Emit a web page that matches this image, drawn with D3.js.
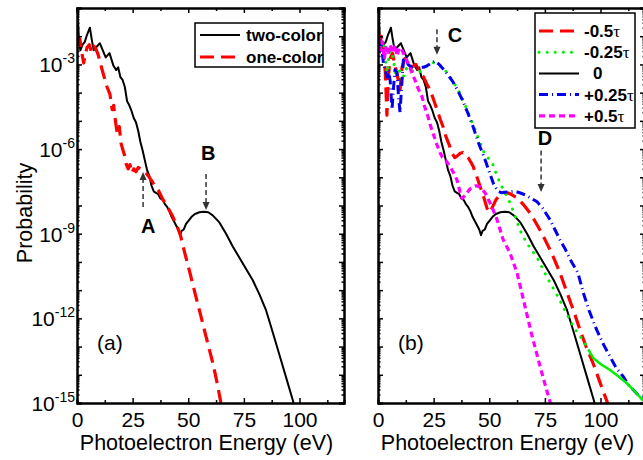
<!DOCTYPE html>
<html>
<head>
<meta charset="utf-8">
<script src="https://cdn.jsdelivr.net/npm/d3@7"></script>
<style>
  body { margin: 0; background: #fff; }
  svg { font-family: "Liberation Sans", Arial, sans-serif; }
</style>
</head>
<body>
<svg id="chart"></svg>
<script>
// [energy eV, log10 probability]
const twoColor = [
  [0.3,-1.1],[0.8,-2.0],[1.5,-2.5],[2.5,-2.3],[3.5,-2.2],[4.5,-1.95],[5.8,-1.7],[6.6,-2.1],[7.5,-2.5],
  [8.5,-2.4],[10.3,-2.25],[11.6,-2.5],[12.9,-2.75],[14.6,-2.6],[16.4,-3.05],[17.6,-3.2],[18.5,-3.1],
  [19.5,-3.45],[20.5,-3.55],[21.5,-3.8],[22.5,-4.3],[23.5,-4.45],[24.5,-4.65],[25.5,-4.9],[26.5,-5.05],
  [27.5,-5.35],[28.5,-5.75],[29.5,-6.05],[30.5,-6.4],[31.5,-6.75],[32.5,-6.95],[33.5,-7.3],[34.5,-7.5],
  [35.5,-7.55],[36.5,-7.6],[37.5,-7.75],[38.5,-7.8],[39.5,-7.95],[40.5,-8.05],[41.5,-8.2],[42.5,-8.4],
  [43.5,-8.55],[44.5,-8.7],[45.5,-8.85],[46.3,-9.05],[47,-8.9],[48,-8.85],[49,-8.65],[50,-8.55],
  [51.5,-8.4],[53,-8.3],[55,-8.24],[57,-8.22],[59,-8.24],[61,-8.35],[64,-8.6],[67,-9.0],[70,-9.45],
  [73,-9.85],[76,-10.25],[79,-10.65],[82,-11.15],[85,-11.72],[88,-12.5],[91,-13.3],[94,-14.1],[97,-14.9],[97.6,-15.1]
];
const oneColor = [
  [0.5,-2.3],[1.3,-2.1],[2.2,-2.6],[3.0,-2.95],[3.6,-2.7],[4.5,-2.4],[5.5,-2.3],[6.5,-2.55],[7.5,-2.35],
  [8.5,-2.45],[9.5,-2.65],[10.3,-2.9],[11.5,-3.25],[12.6,-3.55],[13.5,-3.8],[14.8,-4.05],[15.8,-4.6],
  [16.5,-4.45],[17.1,-4.9],[17.8,-5.3],[18.4,-5.5],[19,-5.2],[19.8,-5.8],[20.7,-6.05],[21.5,-6.25],
  [22.2,-6.55],[23,-6.7],[23.8,-6.55],[24.7,-6.85],[25.5,-6.7],[26.5,-6.8],[27.5,-6.65],[28.5,-6.7],
  [29.7,-6.75],[31,-6.85],[32.5,-7.0],[34.2,-7.2],[36.5,-7.45],[38.7,-7.8],[41,-8.1],[43.1,-8.4],
  [45,-8.75],[46.3,-9.0],[48,-9.55],[50.8,-10.4],[53,-11.1],[55.3,-11.8],[58,-12.65],[61.1,-13.6],
  [63,-14.3],[64.7,-15.0],[65,-15.1]
];
const delayM050 = [
  [0.5,-2.4],[1.5,-2.0],[2.5,-2.5],[3.3,-3.3],[4.0,-4.8],[4.6,-3.5],[5.4,-2.8],[6.5,-2.6],[7.5,-3.0],
  [8.5,-3.3],[9.9,-3.9],[10.8,-3.1],[12,-2.8],[13.5,-2.9],[15,-3.1],[17,-3.0],[18.9,-3.3],[20.5,-3.45],
  [22,-3.7],[23.4,-3.9],[25,-4.25],[26.5,-4.6],[28,-4.95],[29.2,-5.2],[30.5,-5.55],[32,-5.85],
  [33.3,-6.15],[34.5,-6.3],[35.5,-6.25],[37,-6.15],[38.2,-6.12],[40.5,-6.3],[42.7,-6.6],[44.5,-7.0],
  [46,-7.35],[47.5,-7.7],[49,-8.1],[50.3,-8.25],[51.5,-8.05],[53,-7.8],[55,-7.6],[56.5,-7.53],
  [59,-7.57],[62.5,-7.73],[65.5,-7.98],[68.3,-8.26],[70.5,-8.55],[72.8,-8.87],[75,-9.2],[77.3,-9.57],
  [79.5,-9.95],[81.8,-10.39],[85,-11.1],[88,-11.75],[90.8,-12.41],[93.5,-13.0],[96.6,-13.58],
  [99,-14.1],[101,-14.54],[103,-14.96],[103.3,-15.1]
];
const delayM025 = [
  [0.5,-2.2],[1.5,-2.5],[2.5,-2.3],[3.3,-2.8],[4.2,-3.3],[5,-2.6],[6,-2.5],[7,-2.9],[8,-3.4],[9,-3.1],
  [10,-3.3],[11,-3.6],[12.1,-3.2],[13.5,-3.1],[15,-3.2],[17,-3.3],[18.9,-3.25],[20.5,-3.15],[22,-3.05],
  [23.4,-2.98],[25.6,-2.92],[27.5,-3.0],[30.1,-3.2],[32.5,-3.45],[34.6,-3.72],[37,-4.05],[39.1,-4.43],
  [41.5,-4.9],[43.6,-5.3],[46,-5.8],[48.1,-6.2],[51.2,-6.45],[53,-6.85],[54.8,-7.2],[57.1,-7.55],
  [59.3,-7.9],[61.5,-8.35],[63.8,-8.87],[66,-9.2],[68.3,-9.5],[71.3,-9.81],[73.6,-10.17],[76.6,-10.64],
  [80,-11.1],[83.3,-11.6],[86.5,-12.1],[89.5,-12.5],[92.4,-12.8],[94.5,-13.1],[96.7,-13.4],[100,-13.62],
  [104.3,-13.83],[108,-14.05],[111.8,-14.3],[115,-14.55],[119,-14.9],[121,-15.0]
];
const delayP025 = [
  [0.5,-2.6],[1.5,-2.3],[2.5,-3.0],[3.3,-3.2],[4,-3.44],[4.8,-3.2],[5.5,-3.6],[6.3,-4.6],[7,-3.8],
  [7.6,-3.19],[8.5,-3.3],[9.3,-4.2],[9.9,-4.7],[10.6,-3.8],[11.4,-2.85],[12.4,-2.7],[13.5,-3.0],[15,-3.1],
  [17,-3.1],[18.9,-3.1],[20.5,-3.1],[22,-3.05],[24,-2.95],[25.6,-2.88],[27.5,-3.0],[29.2,-3.15],
  [31.5,-3.38],[33.7,-3.62],[36,-3.95],[38.2,-4.3],[40.5,-4.75],[42.7,-5.2],[45,-5.75],[48,-6.35],
  [50,-6.8],[52,-7.25],[54,-7.5],[55.7,-7.55],[58,-7.52],[60.7,-7.5],[63,-7.53],[66.1,-7.62],[69,-7.75],
  [71.5,-7.87],[74,-8.1],[77.3,-8.5],[79.5,-8.85],[81.8,-9.22],[84,-9.52],[86.3,-9.9],[89.9,-10.4],
  [92.3,-11.1],[95,-11.75],[98.3,-12.41],[101.5,-12.95],[104.3,-13.36],[107,-13.75],[110.3,-14.07],
  [112.5,-14.35],[114.8,-14.54],[117,-14.72],[119,-14.83],[121,-14.9]
];
const delayP050 = [
  [0.5,-2.0],[1.3,-2.5],[2,-2.2],[2.8,-2.8],[3.6,-2.4],[4.5,-2.66],[5.5,-2.3],[6.5,-2.6],[7.6,-2.3],
  [8.6,-2.7],[9.5,-2.4],[10.8,-2.5],[12,-2.7],[13.5,-2.94],[15,-3.25],[16.6,-3.55],[18,-3.85],[19.8,-4.15],
  [21,-4.5],[22.5,-4.86],[23.5,-5.15],[24.7,-5.43],[26.5,-5.85],[27.9,-6.13],[29,-6.3],[30.5,-6.4],
  [32.4,-6.63],[34,-6.85],[35.5,-7.09],[36.8,-7.5],[37.8,-7.75],[39,-7.65],[40,-7.55],[41.5,-7.4],
  [42.7,-7.34],[44,-7.3],[45.8,-7.34],[48.1,-7.55],[50,-7.85],[51.2,-8.05],[53.5,-8.5],[56.2,-9.2],
  [59.3,-9.68],[62.5,-10.39],[64.5,-11.05],[66.8,-11.82],[69,-12.55],[71.3,-13.24],[73.5,-13.9],
  [75.8,-14.54],[77.3,-14.95],[77.6,-15.1]
];

const xMajor = [0, 25, 50, 75, 100];
const xMinor = [12.5, 37.5, 62.5, 87.5, 112.5];
const yLabelExp = [-15, -12, -9, -6, -3];
const legendA = ['two-color', 'one-color'];
const legendB = ['-0.5', '-0.25', '0', '+0.25', '+0.5'];
// arrows: label, energy, label pos (E, log10P), arrow from/to log10P
const notesA = [
  {label: 'A', e: 29.7, le: 32, ly: -8.97, from: -8.05, to: -6.81},
  {label: 'B', e: 58, le: 59, ly: -6.38, from: -6.88, to: -8.16}
];
const notesB = [
  {label: 'C', e: 26.5, le: 34.6, ly: -2.2, from: -1.75, to: -2.66},
  {label: 'D', e: 73.3, le: 75, ly: -5.85, from: -6.05, to: -7.52}
];

const W = 643, H = 460;
const FONT = '"Liberation Sans", Arial, sans-serif';
const svg = d3.select('#chart').attr('width', W).attr('height', H)
  .attr('font-family', FONT);

const yScale = d3.scaleLog().domain([1e-15, 1e-1]).range([403, 8]);
const xA = d3.scaleLinear().domain([0, 120]).range([77, 344]);
const xB = d3.scaleLinear().domain([0, 120]).range([378, 645]);

const yDecades = d3.range(-15, 0).map(e => Math.pow(10, e));
const yMinor = [];
d3.range(-15, -1).forEach(e => { for (let k = 2; k < 10; k++) yMinor.push(k * Math.pow(10, e)); });

const styles = {
  twoColor: {color: '#000', width: 2, dash: null},
  oneColor: {color: '#ff0000', width: 3.2, dash: '14,7'},
  m050: {color: '#ff0000', width: 3.2, dash: '14,7'},
  m025: {color: '#00ee00', width: 3, dash: '0.1,8'},
  zero: {color: '#000', width: 2, dash: null},
  p025: {color: '#0000ee', width: 3, dash: '9,4,1,4'},
  p050: {color: '#ff00ff', width: 3.2, dash: '6,4'}
};

function drawPanel(id, x, series, notes) {
  const [x0, x1] = x.range();
  const [y1, y0] = yScale.range();
  svg.append('clipPath').attr('id', 'clip-' + id)
    .append('rect').attr('x', x0).attr('y', y0).attr('width', x1 - x0).attr('height', y1 - y0);

  const g = svg.append('g').attr('clip-path', `url(#clip-${id})`);
  const line = d3.line()
    .x(d => x(d[0]))
    .y(d => yScale(Math.pow(10, d[1])))
    .curve(d3.curveLinear);

  series.forEach(s => {
    const st = styles[s.style];
    g.append('path')
      .datum(s.data)
      .attr('d', line)
      .attr('fill', 'none')
      .attr('stroke', st.color)
      .attr('stroke-width', st.width)
      .attr('stroke-linejoin', 'round')
      .attr('stroke-linecap', s.style === 'm025' ? 'round' : 'butt')
      .attr('stroke-dasharray', st.dash);
  });

  // axes, all ticks point inward
  const axisStyle = sel => {
    sel.attr('font-family', FONT);
    sel.select('.domain').attr('stroke', '#000').attr('stroke-width', 2);
    sel.selectAll('.tick line').attr('stroke', '#000').attr('stroke-width', 1.5);
  };
  svg.append('g').attr('transform', `translate(0,${y1})`)
    .call(d3.axisBottom(x).tickValues(xMajor).tickSizeInner(-5).tickSizeOuter(0).tickPadding(9))
    .call(axisStyle)
    .call(a => a.selectAll('text').attr('font-size', 21).attr('fill', '#000'));
  svg.append('g').attr('transform', `translate(0,${y1})`)
    .call(d3.axisBottom(x).tickValues(xMinor).tickSize(-3).tickFormat(''))
    .call(axisStyle);
  svg.append('g').attr('transform', `translate(0,${y0})`)
    .call(d3.axisTop(x).tickValues(xMajor.concat([120])).tickSize(-5).tickFormat(''))
    .call(axisStyle);
  svg.append('g').attr('transform', `translate(0,${y0})`)
    .call(d3.axisTop(x).tickValues(xMinor).tickSize(-3).tickFormat(''))
    .call(axisStyle);

  [[x0, d3.axisLeft], [x1, d3.axisRight]].forEach(([px, ax]) => {
    svg.append('g').attr('transform', `translate(${px},0)`)
      .call(ax(yScale).tickValues(yDecades).tickSize(-5).tickFormat(''))
      .call(axisStyle);
    svg.append('g').attr('transform', `translate(${px},0)`)
      .call(ax(yScale).tickValues(yMinor).tickSize(-2.5).tickFormat(''))
      .call(axisStyle);
  });

  svg.append('text')
    .attr('x', (x0 + x1) / 2 - 4)
    .attr('y', 450)
    .attr('text-anchor', 'middle')
    .attr('font-size', 21.5)
    .text('Photoelectron Energy (eV)');

  svg.append('text')
    .attr('x', x(9))
    .attr('y', 350)
    .attr('font-size', 21)
    .text(`(${id})`);

  // annotation arrows
  notes.forEach(n => {
    const ax = x(n.e);
    const yf = yScale(Math.pow(10, n.from));
    const yt = yScale(Math.pow(10, n.to));
    const dir = yt > yf ? 1 : -1;
    svg.append('line')
      .attr('x1', ax).attr('x2', ax)
      .attr('y1', yf).attr('y2', yt - dir * 7)
      .attr('stroke', '#333').attr('stroke-width', 1.5)
      .attr('stroke-dasharray', '5,3');
    svg.append('path')
      .attr('d', `M${ax - 3.5},${yt - dir * 8}L${ax + 3.5},${yt - dir * 8}L${ax},${yt}Z`)
      .attr('fill', '#333');
    svg.append('text')
      .attr('x', x(n.le))
      .attr('y', yScale(Math.pow(10, n.ly)))
      .attr('text-anchor', 'middle')
      .attr('font-size', 20)
      .attr('font-weight', 'bold')
      .text(n.label);
  });
}

drawPanel('a', xA, [
  {style: 'twoColor', data: twoColor},
  {style: 'oneColor', data: oneColor}
], notesA);

drawPanel('b', xB, [
  {style: 'zero', data: twoColor},
  {style: 'm050', data: delayM050},
  {style: 'm025', data: delayM025.filter(d => d[0] <= 95)},
  {style: 'p025', data: delayP025},
  {style: 'p050', data: delayP050}
], notesB);

// green tail is drawn solid (dense points) as in the figure
svg.append('path')
  .datum(delayM025.filter(d => d[0] >= 94.5))
  .attr('clip-path', 'url(#clip-b)')
  .attr('d', d3.line().x(d => xB(d[0])).y(d => yScale(Math.pow(10, d[1]))))
  .attr('fill', 'none').attr('stroke', '#00ee00').attr('stroke-width', 2.5);

// y tick labels with superscripts
const yl = svg.append('g');
yLabelExp.forEach(e => {
  const t = yl.append('text')
    .attr('x', 75)
    .attr('y', yScale(Math.pow(10, e)) + 8)
    .attr('text-anchor', 'end')
    .attr('font-size', 21);
  t.append('tspan').text('10');
  t.append('tspan').attr('font-size', 14).attr('dy', -9).text(e);
});

svg.append('text')
  .attr('transform', 'translate(32,213) rotate(-90)')
  .attr('text-anchor', 'middle')
  .attr('font-size', 21.5)
  .text('Probability');

// legend (a)
const la = svg.append('g');
la.append('rect').attr('x', 195).attr('y', 23).attr('width', 128).attr('height', 44)
  .attr('fill', '#fff').attr('stroke', '#000').attr('stroke-width', 1.5);
[styles.twoColor, styles.oneColor].forEach((st, i) => {
  const yy = 35 + i * 22;
  la.append('line').attr('x1', 200).attr('x2', 240).attr('y1', yy).attr('y2', yy)
    .attr('stroke', st.color).attr('stroke-width', st.width).attr('stroke-dasharray', st.dash);
  la.append('text').attr('x', 246).attr('y', yy + 6)
    .attr('font-size', 17).attr('font-weight', 'bold').text(legendA[i]);
});

// legend (b)
const lb = svg.append('g');
lb.append('rect').attr('x', 535).attr('y', 13).attr('width', 100).attr('height', 115)
  .attr('fill', '#fff').attr('stroke', '#000').attr('stroke-width', 1.5);
['m050', 'm025', 'zero', 'p025', 'p050'].forEach((k, i) => {
  const st = styles[k];
  const yy = 31 + i * 21.2;
  lb.append('line').attr('x1', 539).attr('x2', 579).attr('y1', yy).attr('y2', yy)
    .attr('stroke', st.color).attr('stroke-width', st.width)
    .attr('stroke-linecap', k === 'm025' ? 'round' : 'butt')
    .attr('stroke-dasharray', st.dash);
  const t = lb.append('text').attr('x', legendB[i] === '0' ? 593 : 584).attr('y', yy + 6)
    .attr('font-size', 17).attr('font-weight', 'bold');
  t.append('tspan').text(legendB[i]);
  if (legendB[i] !== '0') {
    t.append('tspan').attr('font-family', '"Liberation Serif", serif')
      .attr('font-weight', 'normal').attr('font-size', 17).text('τ');
  }
});
</script>
</body>
</html>
